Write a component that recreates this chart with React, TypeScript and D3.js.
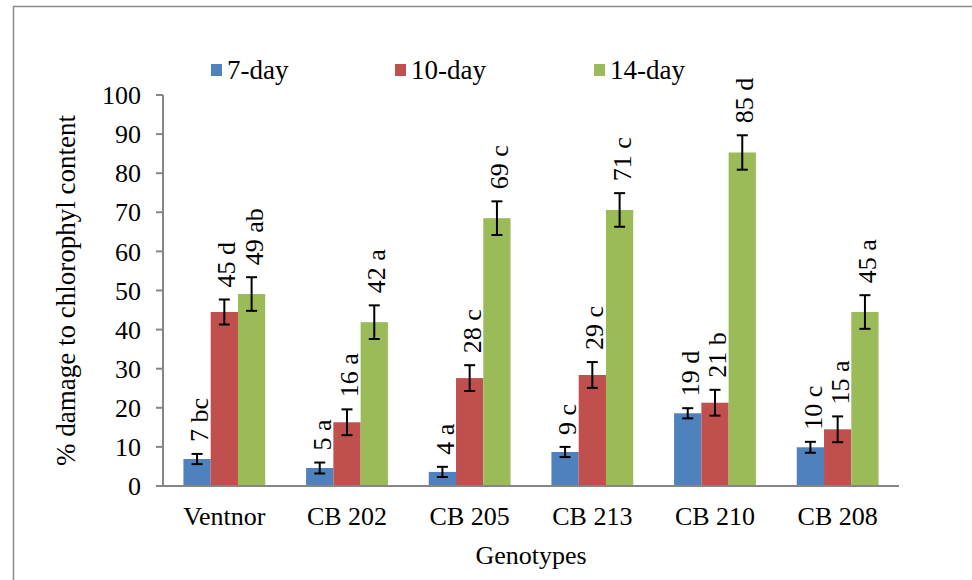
import React from 'react';
import * as d3 from 'd3';

const genotypes = ['Ventnor', 'CB 202', 'CB 205', 'CB 213', 'CB 210', 'CB 208'];
const seriesNames = ['7-day', '10-day', '14-day'];
const seriesColors = ['#4F81BD', '#C0504D', '#9BBB59'];

const day7 = [6.9, 4.6, 3.6, 8.7, 18.6, 9.9];
const day10 = [44.5, 16.3, 27.6, 28.4, 21.3, 14.5];
const day14 = [49.1, 41.9, 68.5, 70.6, 85.3, 44.5];

const err7 = [1.3, 1.4, 1.3, 1.3, 1.3, 1.4];
const err10 = [3.2, 3.3, 3.3, 3.3, 3.3, 3.3];
const err14 = [4.3, 4.3, 4.3, 4.3, 4.4, 4.3];

const label7 = ['7 bc', '5 a', '4 a', '9 c', '19 d', '10 c'];
const label10 = ['45 d', '16 a', '28 c', '29 c', '21 b', '15 a'];
const label14 = ['49 ab', '42 a', '69 c', '71 c', '85 d', '45 a'];

const yTicks = [0, 10, 20, 30, 40, 50, 60, 70, 80, 90, 100];

const W = 972;
const H = 580;
const AXIS = '#868686';
const txt = { fontFamily: "'Liberation Serif'", fontSize: '26px' };
const bigTxt = { fontFamily: "'Liberation Serif'", fontSize: '27px' };

export default function App() {
    const values = [day7, day10, day14];
    const errors = [err7, err10, err14];
    const labels = [label7, label10, label14];

    const x0 = d3.scaleBand<string>().domain(genotypes).range([163, 899]);
    const groupW = x0.bandwidth() * 0.667;
    const x1 = d3.scaleBand<string>().domain(seriesNames).range([0, groupW]);
    const y = d3.scaleLinear().domain([0, 100]).range([486, 95]);
    const legendX = [211, 395, 594];

    return (
        <svg
            width={W}
            height={H}
            style={{ position: 'absolute', left: 0, top: 0, background: '#fff', display: 'block' }}
        >
            <rect x={13.5} y={6.5} width={W} height={H} fill="none" stroke="#8c8c8c" strokeWidth={1.5} />

            {seriesNames.map((s, si) => (
                <g key={s}>
                    {genotypes.map((gname, gi) => {
                        const bx = x0(gname)! + (x0.bandwidth() - groupW) / 2 + x1(s)!;
                        const bw = x1.bandwidth();
                        const v = values[si][gi];
                        const e = errors[si][gi];
                        const cx = bx + bw / 2;
                        return (
                            <g key={gname}>
                                <rect x={bx} y={y(v)} width={bw} height={y(0) - y(v)} fill={seriesColors[si]} />
                                <g stroke="#000" strokeWidth={2}>
                                    <line x1={cx} x2={cx} y1={y(v + e)} y2={y(v - e)} />
                                    <line x1={cx - 5.5} x2={cx + 5.5} y1={y(v + e)} y2={y(v + e)} />
                                    <line x1={cx - 5.5} x2={cx + 5.5} y1={y(v - e)} y2={y(v - e)} />
                                </g>
                                <text
                                    transform={'translate(' + (cx + 2) + ',' + (y(v + e) - 12) + ') rotate(-90)'}
                                    dy="0.35em"
                                    textAnchor="start"
                                    style={txt}
                                >
                                    {labels[si][gi]}
                                </text>
                            </g>
                        );
                    })}
                </g>
            ))}

            {/* y axis */}
            <line x1={163} x2={163} y1={y(100)} y2={y(0)} stroke={AXIS} strokeWidth={2} />
            {yTicks.map((t) => (
                <g key={t}>
                    <line x1={156} x2={163} y1={y(t)} y2={y(t)} stroke={AXIS} strokeWidth={2} />
                    <text x={141} y={y(t)} dy="0.35em" textAnchor="end" style={txt}>
                        {t}
                    </text>
                </g>
            ))}

            {/* x axis */}
            <line x1={156} x2={899} y1={y(0)} y2={y(0)} stroke={AXIS} strokeWidth={2} />
            {genotypes.map((gname) => (
                <text key={gname} x={x0(gname)! + x0.bandwidth() / 2} y={525} textAnchor="middle" style={txt}>
                    {gname}
                </text>
            ))}

            <text x={531} y={564} textAnchor="middle" style={txt}>
                Genotypes
            </text>
            <text transform={'translate(66,' + y(50) + ') rotate(-90)'} dy="0.35em" textAnchor="middle" style={bigTxt}>
                % damage to chlorophyl content
            </text>

            {/* legend */}
            {seriesNames.map((s, si) => (
                <g key={s}>
                    <rect x={legendX[si]} y={64} width={11} height={12} fill={seriesColors[si]} />
                    <text x={legendX[si] + 16} y={79} style={bigTxt}>
                        {s}
                    </text>
                </g>
            ))}
        </svg>
    );
}
